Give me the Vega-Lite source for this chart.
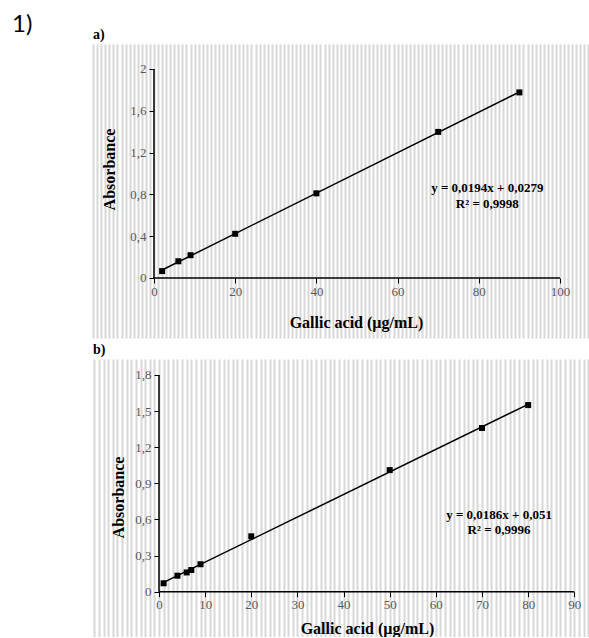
{
"$schema": "https://vega.github.io/schema/vega-lite/v6.json",
"background": "white",
"padding": {"left": 12, "top": 13, "right": 0, "bottom": 0},
"title": {"text": "1)", "anchor": "start", "frame": "group", "font": "Lato", "fontSize": 24, "fontWeight": "normal", "color": "black", "dx": -81, "offset": -9},
"config": {"view": {"stroke": null}, "axis": {"grid": false}},
"spacing": 5,
"vconcat": [
{
"title": {"text": "a)", "anchor": "start", "frame": "group", "font": "Liberation Serif", "fontSize": 14, "fontWeight": "bold", "color": "black", "offset": 2},
"width": 496, "height": 294,
"data": {"values": [
{"conc": 2, "abs": 0.066}, {"conc": 6, "abs": 0.16}, {"conc": 9, "abs": 0.218}, {"conc": 20, "abs": 0.423},
{"conc": 40, "abs": 0.81}, {"conc": 70, "abs": 1.398}, {"conc": 90, "abs": 1.776}
]},
"layer": [
{"data": {"values": [{}]},
 "mark": {"type": "rule", "color": "black", "strokeWidth": 1.5},
 "encoding": {
  "x": {"datum": 0, "type": "quantitative", "scale": {"domain": [-15.025, 107.143], "nice": false, "zero": false},
        "axis": {"orient": "top", "grid": true, "gridColor": "#d8d8d8", "gridWidth": 2, "gridOpacity": 1, "tickCount": 122, "domain": false, "ticks": false, "labels": false, "title": null, "zindex": 0}},
  "y": {"datum": 0, "type": "quantitative", "scale": {"domain": [-0.5742, 2.2392], "nice": false, "zero": false}, "axis": null},
  "y2": {"datum": 2}}},
{"data": {"values": [{}]},
 "mark": {"type": "rule", "color": "black", "strokeWidth": 1.5},
 "encoding": {
  "x": {"datum": 0, "type": "quantitative", "scale": {"domain": [-15.025, 107.143], "nice": false, "zero": false}, "axis": null},
  "x2": {"datum": 100},
  "y": {"datum": 0, "type": "quantitative", "scale": {"domain": [-0.5742, 2.2392], "nice": false, "zero": false}, "axis": null}}},
{"transform": [{"regression": "abs", "on": "conc"}],
 "mark": {"type": "line", "color": "black", "strokeWidth": 1.5},
 "encoding": {
  "x": {"field": "conc", "type": "quantitative", "scale": {"domain": [-15.025, 107.143], "nice": false, "zero": false}, "axis": null},
  "y": {"field": "abs", "type": "quantitative", "scale": {"domain": [-0.5742, 2.2392], "nice": false, "zero": false}, "axis": null}}},
{"mark": {"type": "point", "shape": "square", "filled": true, "color": "black", "size": 36, "opacity": 1},
 "encoding": {
  "x": {"field": "conc", "type": "quantitative", "scale": {"domain": [-15.025, 107.143], "nice": false, "zero": false},
        "axis": {"orient": "bottom", "offset": -60, "values": [0, 20, 40, 60, 80, 100], "domain": false, "ticks": true, "tickSize": 5, "tickColor": "black", "tickWidth": 1, "labelFont": "Liberation Serif", "labelFontSize": 13, "labelColor": "#595959", "labelPadding": 2, "labelFlush": false, "title": "Gallic acid (µg/mL)", "titleFont": "Liberation Serif", "titleFontSize": 16, "titleFontWeight": "bold", "titleColor": "black", "titleX": 263, "titleY": 44, "titleBaseline": "middle", "titleAlign": "center", "zindex": 1}},
  "y": {"field": "abs", "type": "quantitative", "scale": {"domain": [-0.5742, 2.2392], "nice": false, "zero": false},
        "axis": {"orient": "left", "offset": -61, "values": [0, 0.4, 0.8, 1.2, 1.6, 2], "labelExpr": "replace(format(datum.value, '~g'), '.', ',')", "domain": false, "ticks": true, "tickSize": 5, "tickColor": "black", "tickWidth": 1, "labelFont": "Liberation Serif", "labelFontSize": 13, "labelColor": "#595959", "labelPadding": 3, "title": "Absorbance", "titleFont": "Liberation Serif", "titleFontSize": 16, "titleFontWeight": "bold", "titleColor": "black", "titleX": -45, "titleY": 125, "titleBaseline": "middle", "titleAlign": "center", "titleAngle": 270, "zindex": 1}}}},
{"data": {"values": [{}]},
 "mark": {"type": "text", "text": ["y = 0,0194x + 0,0279", "R² = 0,9998"], "font": "Liberation Serif", "fontSize": 13, "fontWeight": "bold", "color": "black", "align": "center", "baseline": "middle", "lineHeight": 16},
 "encoding": {
  "x": {"datum": 82.1, "type": "quantitative", "scale": {"domain": [-15.025, 107.143], "nice": false, "zero": false}, "axis": null},
  "y": {"datum": 0.861, "type": "quantitative", "scale": {"domain": [-0.5742, 2.2392], "nice": false, "zero": false}, "axis": null}}}
],
"resolve": {"axis": {"x": "independent", "y": "independent"}}
},
{
"title": {"text": "b)", "anchor": "start", "frame": "group", "font": "Liberation Serif", "fontSize": 14, "fontWeight": "bold", "color": "black", "offset": 2},
"width": 496, "height": 278,
"data": {"values": [
{"conc": 1, "abs": 0.07}, {"conc": 4, "abs": 0.133}, {"conc": 6, "abs": 0.16}, {"conc": 7, "abs": 0.18}, {"conc": 9, "abs": 0.228},
{"conc": 20, "abs": 0.46}, {"conc": 50, "abs": 1.01}, {"conc": 70, "abs": 1.36}, {"conc": 80, "abs": 1.55}
]},
"layer": [
{"data": {"values": [{}]},
 "mark": {"type": "rule", "color": "black", "strokeWidth": 1.5},
 "encoding": {
  "x": {"datum": 0, "type": "quantitative", "scale": {"domain": [-14.303, 93.186], "nice": false, "zero": false},
        "axis": {"orient": "top", "grid": true, "gridColor": "#d8d8d8", "gridWidth": 2, "gridOpacity": 1, "tickCount": 108, "domain": false, "ticks": false, "labels": false, "title": null, "zindex": 0}},
  "y": {"datum": 0, "type": "quantitative", "scale": {"domain": [-0.3763, 1.9329], "nice": false, "zero": false}, "axis": null},
  "y2": {"datum": 1.8}}},
{"data": {"values": [{}]},
 "mark": {"type": "rule", "color": "black", "strokeWidth": 1.5},
 "encoding": {
  "x": {"datum": 0, "type": "quantitative", "scale": {"domain": [-14.303, 93.186], "nice": false, "zero": false}, "axis": null},
  "x2": {"datum": 90},
  "y": {"datum": 0, "type": "quantitative", "scale": {"domain": [-0.3763, 1.9329], "nice": false, "zero": false}, "axis": null}}},
{"transform": [{"regression": "abs", "on": "conc"}],
 "mark": {"type": "line", "color": "black", "strokeWidth": 1.5},
 "encoding": {
  "x": {"field": "conc", "type": "quantitative", "scale": {"domain": [-14.303, 93.186], "nice": false, "zero": false}, "axis": null},
  "y": {"field": "abs", "type": "quantitative", "scale": {"domain": [-0.3763, 1.9329], "nice": false, "zero": false}, "axis": null}}},
{"mark": {"type": "point", "shape": "square", "filled": true, "color": "black", "size": 36, "opacity": 1},
 "encoding": {
  "x": {"field": "conc", "type": "quantitative", "scale": {"domain": [-14.303, 93.186], "nice": false, "zero": false},
        "axis": {"orient": "bottom", "offset": -45.3, "values": [0, 10, 20, 30, 40, 50, 60, 70, 80, 90], "domain": false, "ticks": true, "tickSize": 5, "tickColor": "black", "tickWidth": 1, "labelFont": "Liberation Serif", "labelFontSize": 13, "labelColor": "#595959", "labelPadding": 2, "labelFlush": false, "title": "Gallic acid (µg/mL)", "titleFont": "Liberation Serif", "titleFontSize": 16, "titleFontWeight": "bold", "titleColor": "black", "titleX": 274, "titleY": 37, "titleBaseline": "middle", "titleAlign": "center", "zindex": 1}},
  "y": {"field": "abs", "type": "quantitative", "scale": {"domain": [-0.3763, 1.9329], "nice": false, "zero": false},
        "axis": {"orient": "left", "offset": -66, "values": [0, 0.3, 0.6, 0.9, 1.2, 1.5, 1.8], "labelExpr": "replace(format(datum.value, '~g'), '.', ',')", "domain": false, "ticks": true, "tickSize": 5, "tickColor": "black", "tickWidth": 1, "labelFont": "Liberation Serif", "labelFontSize": 13, "labelColor": "#595959", "labelPadding": 3, "title": "Absorbance", "titleFont": "Liberation Serif", "titleFontSize": 16, "titleFontWeight": "bold", "titleColor": "black", "titleX": -41, "titleY": 138, "titleBaseline": "middle", "titleAlign": "center", "titleAngle": 270, "zindex": 1}}}},
{"data": {"values": [{}]},
 "mark": {"type": "text", "text": ["y = 0,0186x + 0,051", "R² = 0,9996"], "font": "Liberation Serif", "fontSize": 13, "fontWeight": "bold", "color": "black", "align": "center", "baseline": "middle", "lineHeight": 15},
 "encoding": {
  "x": {"datum": 73.7, "type": "quantitative", "scale": {"domain": [-14.303, 93.186], "nice": false, "zero": false}, "axis": null},
  "y": {"datum": 0.637, "type": "quantitative", "scale": {"domain": [-0.3763, 1.9329], "nice": false, "zero": false}, "axis": null}}}
],
"resolve": {"axis": {"x": "independent", "y": "independent"}}
}
]
}
